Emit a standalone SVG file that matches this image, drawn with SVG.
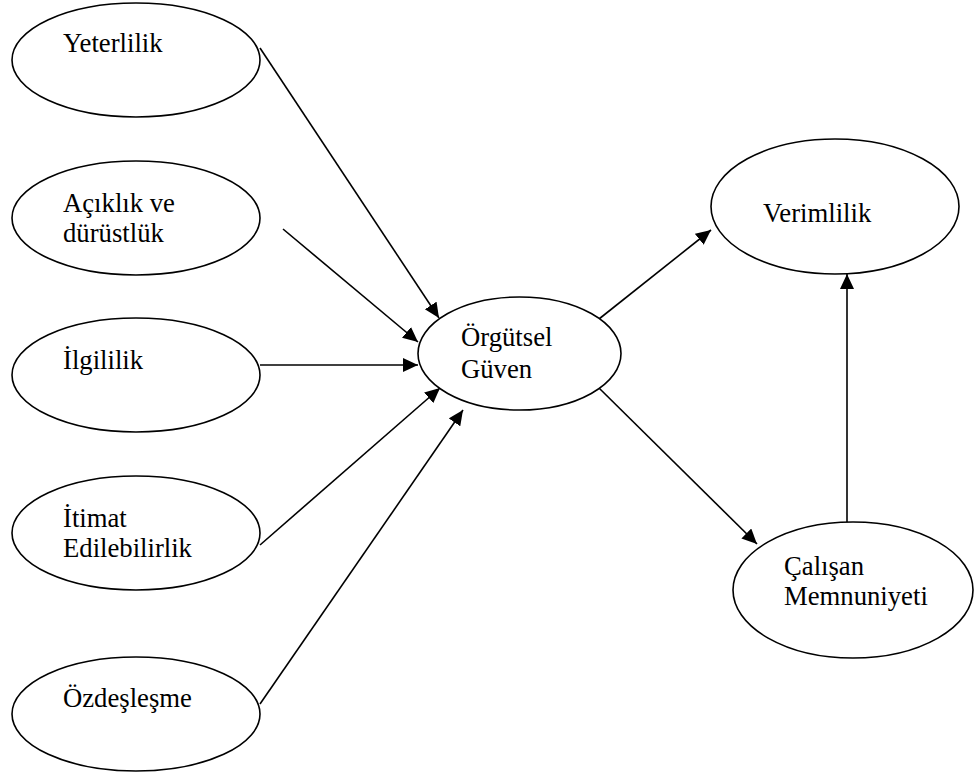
<svg xmlns="http://www.w3.org/2000/svg" width="974" height="777" viewBox="0 0 974 777">
  <style>
    .node ellipse { fill: #ffffff; stroke: #000000; stroke-width: 1.6; }
    .node text { font-family: "Liberation Serif", "DejaVu Serif", serif; font-size: 26.7px; fill: #000000; }
    .edge { stroke: #000000; stroke-width: 1.6; fill: none; marker-end: url(#arrow); }
  </style>
  <defs>
    <!-- solid triangular arrowhead shared by all connectors -->
    <marker id="arrow" markerUnits="userSpaceOnUse" markerWidth="16" markerHeight="15" refX="15" refY="7" orient="auto">
      <path d="M0,0 L15,7 L0,14 z" fill="#000000"/>
    </marker>
  </defs>
  <rect width="974" height="777" fill="#ffffff"/>

  <g id="connectors">
    <line class="edge" x1="260" y1="48" x2="439" y2="318"/>
    <line class="edge" x1="283" y1="229" x2="418" y2="342"/>
    <line class="edge" x1="260" y1="365" x2="418" y2="365"/>
    <line class="edge" x1="260" y1="545" x2="440" y2="388"/>
    <line class="edge" x1="260" y1="704" x2="463" y2="410"/>
    <line class="edge" x1="599" y1="319" x2="711" y2="230"/>
    <line class="edge" x1="599" y1="388" x2="757" y2="544"/>
    <line class="edge" x1="847" y1="522" x2="847" y2="274"/>
  </g>

  <g id="yeterlilik" class="node">
    <ellipse cx="136" cy="60" rx="124" ry="57"/>
    <text x="63" y="52">Yeterlilik</text>
  </g>
  <g id="aciklik" class="node">
    <ellipse cx="136" cy="218" rx="124" ry="57"/>
    <text x="63" y="212">Açıklık ve</text>
    <text x="63" y="242">dürüstlük</text>
  </g>
  <g id="ilgililik" class="node">
    <ellipse cx="136" cy="375" rx="124" ry="57"/>
    <text x="63" y="369">İlgililik</text>
  </g>
  <g id="itimat" class="node">
    <ellipse cx="136" cy="533" rx="124" ry="57"/>
    <text x="63" y="527">İtimat</text>
    <text x="63" y="557">Edilebilirlik</text>
  </g>
  <g id="ozdeslesme" class="node">
    <ellipse cx="136" cy="714" rx="124" ry="57"/>
    <text x="63" y="707">Özdeşleşme</text>
  </g>
  <g id="orgutsel-guven" class="node">
    <ellipse cx="519.5" cy="353.5" rx="101.5" ry="56.5"/>
    <text x="461" y="346">Örgütsel</text>
    <text x="461" y="378">Güven</text>
  </g>
  <g id="verimlilik" class="node">
    <ellipse cx="835" cy="206.5" rx="124" ry="67.5"/>
    <text x="763" y="222">Verimlilik</text>
  </g>
  <g id="calisan-memnuniyeti" class="node">
    <ellipse cx="853" cy="590" rx="120" ry="68"/>
    <text x="784" y="575">Çalışan</text>
    <text x="784" y="605">Memnuniyeti</text>
  </g>
</svg>
